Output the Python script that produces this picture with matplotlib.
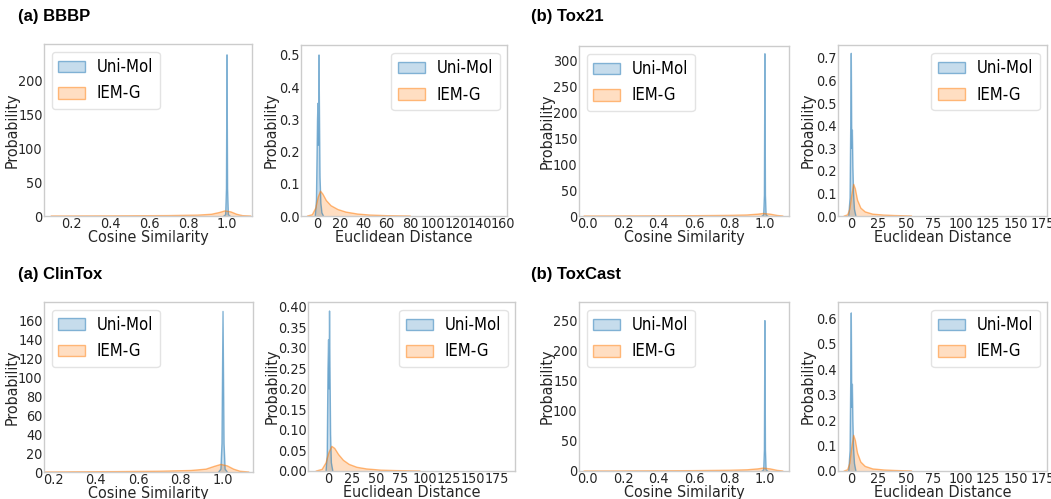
import numpy as np
import matplotlib.pyplot as plt
import matplotlib.patches as mpatches

W, H = 1051, 499
blue = '#1f77b4'
orange = '#ff7f0e'

# ---- BBBP ----
bbbp_cos_uni_x = [0.985, 0.993, 0.997, 1.0, 1.003, 1.007, 1.015]
bbbp_cos_uni_y = [0, 2, 40, 237, 40, 2, 0]
bbbp_cos_iem_x = [0.1, 0.3, 0.5, 0.7, 0.85, 0.92, 0.96, 0.99, 1.02, 1.05, 1.08, 1.12]
bbbp_cos_iem_y = [0, 0.1, 0.3, 0.6, 1.3, 2.5, 5.0, 7.5, 6.0, 2.5, 0.5, 0]
bbbp_euc_uni_x = [-1.5, -0.5, 0.4, 0.8, 1.2, 1.7, 2.1, 2.6, 3.3, 4.2, 5.5]
bbbp_euc_uni_y = [0, 0.05, 0.30, 0.35, 0.22, 0.50, 0.32, 0.12, 0.04, 0.01, 0]
bbbp_euc_iem_x = [-8, -4, -1, 1, 3, 5, 8, 12, 18, 25, 35, 45, 60, 80]
bbbp_euc_iem_y = [0, 0.004, 0.025, 0.058, 0.077, 0.068, 0.048, 0.032, 0.020, 0.012, 0.006, 0.003, 0.001, 0]

# ---- Tox21 ----
tox21_cos_uni_x = [0.985, 0.993, 0.997, 1.0, 1.003, 1.007, 1.015]
tox21_cos_uni_y = [0, 2, 40, 312, 40, 2, 0]
tox21_cos_iem_x = [-0.02, 0.2, 0.4, 0.6, 0.8, 0.9, 0.96, 0.99, 1.03, 1.07, 1.1]
tox21_cos_iem_y = [0, 0.1, 0.3, 0.6, 1.2, 2.0, 3.5, 4.8, 3.5, 1.0, 0]
tox21_euc_uni_x = [-2.0, -0.8, -0.2, 0.3, 0.8, 1.3, 1.8, 2.4, 3.2, 4.5]
tox21_euc_uni_y = [0, 0.08, 0.40, 0.72, 0.30, 0.38, 0.22, 0.10, 0.03, 0]
tox21_euc_iem_x = [-6, -3, -1, 1, 2.5, 4, 6, 9, 13, 20, 30, 40, 55]
tox21_euc_iem_y = [0, 0.005, 0.03, 0.10, 0.14, 0.12, 0.07, 0.035, 0.018, 0.008, 0.004, 0.002, 0]

# ---- ClinTox ----
clin_cos_uni_x = [0.98, 0.99, 0.995, 1.0, 1.005, 1.01, 1.02]
clin_cos_uni_y = [0, 3, 30, 170, 30, 3, 0]
clin_cos_iem_x = [0.15, 0.3, 0.5, 0.7, 0.85, 0.92, 0.96, 0.99, 1.02, 1.05, 1.08, 1.12]
clin_cos_iem_y = [0, 0.2, 0.4, 0.8, 1.6, 3.0, 6.0, 8.0, 6.5, 3.0, 0.8, 0]
clin_euc_uni_x = [-2.0, -0.8, 0.0, 0.6, 1.1, 1.6, 2.1, 2.7, 3.5, 5.0]
clin_euc_uni_y = [0, 0.04, 0.25, 0.32, 0.20, 0.39, 0.25, 0.09, 0.02, 0]
clin_euc_iem_x = [-12, -6, -2, 1, 4, 7, 11, 16, 22, 30, 40, 55, 70, 95]
clin_euc_iem_y = [0, 0.004, 0.02, 0.045, 0.060, 0.055, 0.040, 0.026, 0.016, 0.009, 0.005, 0.002, 0.001, 0]

# ---- ToxCast ----
cast_cos_uni_x = [0.985, 0.993, 0.997, 1.0, 1.003, 1.007, 1.015]
cast_cos_uni_y = [0, 2, 35, 250, 35, 2, 0]
cast_cos_iem_x = [-0.02, 0.2, 0.4, 0.6, 0.8, 0.9, 0.96, 0.99, 1.03, 1.07, 1.1]
cast_cos_iem_y = [0, 0.1, 0.3, 0.6, 1.2, 2.0, 3.5, 4.8, 3.5, 1.0, 0]
cast_euc_uni_x = [-2.0, -0.8, -0.2, 0.3, 0.8, 1.3, 1.8, 2.4, 3.2, 4.5]
cast_euc_uni_y = [0, 0.08, 0.35, 0.62, 0.25, 0.34, 0.20, 0.09, 0.03, 0]
cast_euc_iem_x = [-6, -3, -1, 1, 2.5, 4, 6, 9, 13, 20, 30, 40, 55]
cast_euc_iem_y = [0, 0.005, 0.03, 0.10, 0.14, 0.12, 0.07, 0.035, 0.018, 0.008, 0.004, 0.002, 0]

titles = ['(a) BBBP', '(b) Tox21', '(a) ClinTox', '(b) ToxCast']
title_pos = [(18, 17), (531, 17), (18, 274), (531, 274)]

# pixel boxes: left, top, right, bottom ; ylab = y label offset in px
panels = [
    dict(box=(44, 44, 252, 216), ux=bbbp_cos_uni_x, uy=bbbp_cos_uni_y, ix=bbbp_cos_iem_x, iy=bbbp_cos_iem_y,
         xlim=(0.062, 1.128), ylim=(0, 253), xt=[0.2, 0.4, 0.6, 0.8, 1.0], yt=[0, 50, 100, 150, 200],
         fmt='%.1f', yfmt='%d', xl='Cosine Similarity', loc='upper left', ylab=32),
    dict(box=(301, 45, 507, 216), ux=bbbp_euc_uni_x, uy=bbbp_euc_uni_y, ix=bbbp_euc_iem_x, iy=bbbp_euc_iem_y,
         xlim=(-13.8, 163.4), ylim=(0, 0.531), xt=list(range(0, 161, 20)), yt=[0, 0.1, 0.2, 0.3, 0.4, 0.5],
         fmt='%d', yfmt='%.1f', xl='Euclidean Distance', loc='upper right', ylab=30),
    dict(box=(579, 46, 789, 216), ux=tox21_cos_uni_x, uy=tox21_cos_uni_y, ix=tox21_cos_iem_x, iy=tox21_cos_iem_y,
         xlim=(-0.05, 1.136), ylim=(0, 327), xt=[0.0, 0.2, 0.4, 0.6, 0.8, 1.0], yt=[0, 50, 100, 150, 200, 250, 300],
         fmt='%.1f', yfmt='%d', xl='Cosine Similarity', loc='upper left', ylab=32),
    dict(box=(838, 45, 1047, 216), ux=tox21_euc_uni_x, uy=tox21_euc_uni_y, ix=tox21_euc_iem_x, iy=tox21_euc_iem_y,
         xlim=(-11.8, 178.6), ylim=(0, 0.757), xt=list(range(0, 176, 25)), yt=[0, 0.1, 0.2, 0.3, 0.4, 0.5, 0.6, 0.7],
         fmt='%d', yfmt='%.1f', xl='Euclidean Distance', loc='upper right', ylab=30),
    dict(box=(44, 302, 253, 472), ux=clin_cos_uni_x, uy=clin_cos_uni_y, ix=clin_cos_iem_x, iy=clin_cos_iem_y,
         xlim=(0.158, 1.141), ylim=(0, 180), xt=[0.2, 0.4, 0.6, 0.8, 1.0], yt=list(range(0, 161, 20)),
         fmt='%.1f', yfmt='%d', xl='Cosine Similarity', loc='upper left', ylab=32),
    dict(box=(308, 302, 515, 471), ux=clin_euc_uni_x, uy=clin_euc_uni_y, ix=clin_euc_iem_x, iy=clin_euc_iem_y,
         xlim=(-20.7, 193.6), ylim=(0, 0.412), xt=list(range(0, 176, 25)),
         yt=[0, 0.05, 0.1, 0.15, 0.2, 0.25, 0.3, 0.35, 0.4],
         fmt='%d', yfmt='%.2f', xl='Euclidean Distance', loc='upper right', ylab=36),
    dict(box=(579, 302, 789, 471), ux=cast_cos_uni_x, uy=cast_cos_uni_y, ix=cast_cos_iem_x, iy=cast_cos_iem_y,
         xlim=(-0.05, 1.136), ylim=(0, 281), xt=[0.0, 0.2, 0.4, 0.6, 0.8, 1.0], yt=[0, 50, 100, 150, 200, 250],
         fmt='%.1f', yfmt='%d', xl='Cosine Similarity', loc='upper left', ylab=32),
    dict(box=(838, 302, 1047, 471), ux=cast_euc_uni_x, uy=cast_euc_uni_y, ix=cast_euc_iem_x, iy=cast_euc_iem_y,
         xlim=(-11.8, 178.6), ylim=(0, 0.663), xt=list(range(0, 176, 25)), yt=[0, 0.1, 0.2, 0.3, 0.4, 0.5, 0.6],
         fmt='%d', yfmt='%.1f', xl='Euclidean Distance', loc='upper right', ylab=30),
]

plt.rcParams['font.family'] = 'DejaVu Sans'
plt.rcParams['font.stretch'] = 'condensed'
fig = plt.figure(figsize=(W / 100, H / 100), dpi=100)

for p in panels:
    l, t, r, b = p['box']
    w, h = r - l, b - t
    ax = fig.add_axes([l / W, 1 - b / H, w / W, h / H])
    for xs, ys, c in [(p['ux'], p['uy'], blue), (p['ix'], p['iy'], orange)]:
        ax.fill_between(xs, ys, 0, facecolor=c, alpha=0.25, edgecolor='none')
        ax.plot(xs, ys, color=c, alpha=0.55, lw=1)
    ax.set_xlim(*p['xlim'])
    ax.set_ylim(*p['ylim'])
    ax.set_xticks(p['xt'])
    ax.set_xticklabels([p['fmt'] % v for v in p['xt']])
    ax.set_yticks(p['yt'])
    ax.set_yticklabels([p['yfmt'] % v for v in p['yt']])
    ax.tick_params(length=0, pad=1, labelsize=10.3, colors='#262626')
    for s in ax.spines.values():
        s.set_color('#cccccc')
        s.set_linewidth(1)
    ax.set_xlabel(p['xl'], fontsize=11.5, color='#262626')
    ax.set_ylabel('Probability', fontsize=11.5, color='#262626')
    ax.xaxis.set_label_coords(0.5, -14 / h)
    ax.yaxis.set_label_coords(-p['ylab'] / w, 0.5)
    ax.xaxis.label.set_va('top')
    ax.yaxis.label.set_va('center')
    handles = [mpatches.Patch(facecolor=(0.122, 0.467, 0.706, 0.25), edgecolor=(0.122, 0.467, 0.706, 0.5), label='Uni-Mol'),
               mpatches.Patch(facecolor=(1.0, 0.498, 0.055, 0.25), edgecolor=(1.0, 0.498, 0.055, 0.5), label='IEM-G')]
    leg = ax.legend(handles=handles, loc=p['loc'], fontsize=12, frameon=True, handlelength=1.6,
                    handletextpad=0.7, borderaxespad=0.45)
    leg.get_frame().set_edgecolor('#dddddd')

for txt, (x, y) in zip(titles, title_pos):
    fig.text(x / W, 1 - y / H, txt, fontsize=12, fontweight='bold', family='Liberation Sans',
             stretch='normal', ha='left', va='center')

plt.savefig('out.png', dpi=100)
